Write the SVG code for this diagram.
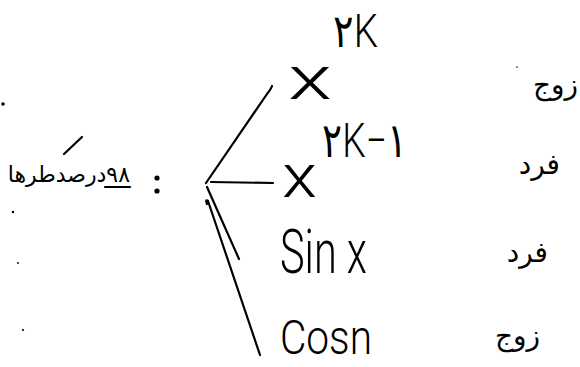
<svg xmlns="http://www.w3.org/2000/svg" width="580" height="367" viewBox="0 0 580 367">
<style>
.ink{fill:#000}
.ln{fill:none;stroke:#000;stroke-width:2.2;stroke-linecap:round;stroke-linejoin:round}
.m{font-family:Roboto,"Liberation Sans","DejaVu Sans",sans-serif;font-weight:300;fill:#000}
.fa{font-family:"DejaVu Sans","Noto Sans",sans-serif;fill:#000}
</style>
<rect width="580" height="367" fill="#fff"/>
<g id="root">
<text class="fa" x="130" y="182" font-size="22" direction="rtl" unicode-bidi="embed" text-anchor="start">۹۸درصدطرها</text>
<path class="ln" d="M105,187 L130,187" stroke-width="1.8"/>
<path class="ln" d="M64,154 L82,137" stroke-width="1.6"/>
<circle class="ink" cx="157" cy="178" r="2.6"/>
<circle class="ink" cx="157" cy="191" r="2.6"/>
</g>
<g id="connectors">
<path class="ln" d="M206,183 L267,94 Q271,89 272,86"/>
<path class="ln" d="M211,182 L273,183"/>
<path class="ln" d="M207,187 L239,259"/>
<path class="ln" d="M207,204 Q205,199 208,201 L260,355"/>
</g>
<g id="item1">
<text class="m" x="333" y="47" font-size="46" textLength="45" lengthAdjust="spacingAndGlyphs">۲K</text>
<text class="m" x="288" y="99" font-size="62" textLength="44" lengthAdjust="spacingAndGlyphs">x</text>
</g>
<g id="item2">
<text class="m" x="322" y="157" font-size="48" textLength="85" lengthAdjust="spacingAndGlyphs">۲K−۱</text>
<text class="m" x="282" y="197" font-size="62" textLength="35" lengthAdjust="spacingAndGlyphs">x</text>
</g>
<g id="item3">
<text class="m" x="280" y="273" font-size="62" textLength="87" lengthAdjust="spacingAndGlyphs">Sin x</text>
</g>
<g id="item4">
<text class="m" x="280" y="354" font-size="48" textLength="92" lengthAdjust="spacingAndGlyphs">Cosn</text>
</g>
<g id="label1"><text class="fa" x="578" y="94" font-size="28" text-anchor="end">زوج</text></g>
<g id="label2"><text class="fa" x="560" y="174" font-size="28" text-anchor="end">فرد</text></g>
<g id="label3"><text class="fa" x="548" y="262" font-size="28" text-anchor="end">فرد</text></g>
<g id="label4"><text class="fa" x="540" y="345" font-size="28" text-anchor="end">زوج</text></g>
<g id="specks">
<circle class="ink" cx="3" cy="104" r="1.8"/>
<circle class="ink" cx="13" cy="212" r="1.3"/>
<circle class="ink" cx="18" cy="263" r="0.9"/>
<circle class="ink" cx="23" cy="330" r="1.1"/>
<circle class="ink" cx="517" cy="67" r="0.8"/>
</g>
</svg>
